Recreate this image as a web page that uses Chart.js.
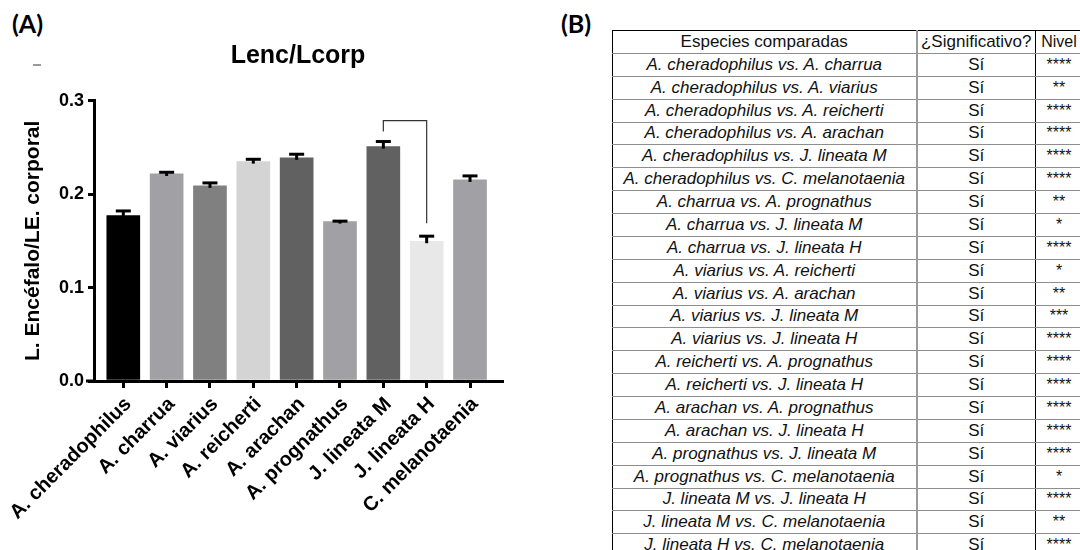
<!DOCTYPE html>
<html>
<head>
<meta charset="utf-8">
<script src="https://cdn.jsdelivr.net/npm/chart.js@4.4.1/dist/chart.umd.min.js"></script>
<style>
  html, body { margin: 0; padding: 0; background: #fff; }
  body { width: 1080px; height: 550px; overflow: hidden; position: relative;
         font-family: "Liberation Sans", Arial, sans-serif; }
  #chartBox { position: absolute; left: 0; top: 0; width: 540px; height: 550px; }
  .panel { position: absolute; font-family: Lato, "Open Sans", sans-serif; font-weight: 700;
           font-size: 25px; line-height: 1; color: #000; }
  .stray { position: absolute; left: 33px; top: 64px; width: 8px; height: 2px; background: #9a9a9a; }
  #tbl { position: absolute; left: 612px; top: 30px; border-collapse: collapse;
         table-layout: fixed; width: 470px; color: #111; font-size: 17px; }
  #tbl td { height: 21.88px; padding: 0; text-align: center; vertical-align: middle;
            border-top: 1px solid #8e8e8e; border-bottom: 1px solid #8e8e8e;
            white-space: nowrap; overflow: hidden; line-height: 20px; }
  #tbl tr:first-child td { border-top: 1px solid #000; }
  #tbl td.c1 { border-left: 1px solid #000; border-right: 2px solid #9a9a9a; font-style: italic; }
  #tbl td.c2 { border-right: 1.5px solid #000; }
  #tbl td.c3 { border-right: 1px solid #000; font-size: 16px; }
  #tbl tr.head td { font-style: normal; }
</style>
</head>
<body>
<div class="panel" style="left:12px; top:11px;">(A)</div>
<div class="panel" style="left:561px; top:11px;">(B)</div>
<div class="stray"></div>
<div id="chartBox"><canvas id="c" width="540" height="550"></canvas></div>
<table id="tbl">
  <colgroup><col style="width:304px"><col style="width:119px"><col style="width:47px"></colgroup>
  <tbody id="tbody"></tbody>
</table>

<script>
// Brain length / body length ratio per species (mean and SEM)
const species = ['A. cheradophilus', 'A. charrua', 'A. viarius', 'A. reicherti', 'A. arachan',
                 'A. prognathus', 'J. lineata M', 'J. lineata H', 'C. melanotaenia'];
const means = [0.177, 0.2216, 0.2088, 0.2348, 0.2388, 0.1706, 0.2509, 0.1496, 0.2152];
const sems  = [0.0050, 0.0018, 0.0032, 0.0025, 0.0039, 0.0005, 0.0054, 0.0054, 0.0043];
const barColors = ['#000000', '#a1a1a5', '#808080', '#d4d4d4', '#616161',
                   '#a1a1a5', '#616161', '#e8e8e8', '#a1a1a5'];
const yTicks = [0, 0.1, 0.2, 0.3];
// bracket drawn between these two species
const bracketPair = [6, 7];

// Pairwise comparisons table
const tableHeader = ['Especies comparadas', '¿Significativo?', 'Nivel'];
const pairs = [
  'A. cheradophilus vs. A. charrua',
  'A. cheradophilus vs. A. viarius',
  'A. cheradophilus vs. A. reicherti',
  'A. cheradophilus vs. A. arachan',
  'A. cheradophilus vs. J. lineata M',
  'A. cheradophilus vs. C. melanotaenia',
  'A. charrua vs. A. prognathus',
  'A. charrua vs. J. lineata M',
  'A. charrua vs. J. lineata H',
  'A. viarius vs. A. reicherti',
  'A. viarius vs. A. arachan',
  'A. viarius vs. J. lineata M',
  'A. viarius vs. J. lineata H',
  'A. reicherti vs. A. prognathus',
  'A. reicherti vs. J. lineata H',
  'A. arachan vs. A. prognathus',
  'A. arachan vs. J. lineata H',
  'A. prognathus vs. J. lineata M',
  'A. prognathus vs. C. melanotaenia',
  'J. lineata M vs. J. lineata H',
  'J. lineata M vs. C. melanotaenia',
  'J. lineata H vs. C. melanotaenia'
];
const significant = pairs.map(() => 'Sí');
const levels = ['****', '**', '****', '****', '****', '****', '**', '*', '****', '*', '**',
                '***', '****', '****', '****', '****', '****', '****', '*', '****', '**', '****'];

// build the table
(function () {
  const tb = document.getElementById('tbody');
  const mk = (cells, cls) => {
    const tr = document.createElement('tr');
    if (cls) tr.className = cls;
    cells.forEach((t, i) => {
      const td = document.createElement('td');
      td.className = 'c' + (i + 1);
      td.textContent = t;
      tr.appendChild(td);
    });
    tb.appendChild(tr);
  };
  mk(tableHeader, 'head');
  pairs.forEach((p, i) => mk([p, significant[i], levels[i]]));
})();

const FONT = '"Liberation Sans", Arial, sans-serif';

// error bars, bracket, category labels, main title and x-axis extension
const decor = {
  id: 'decor',
  afterDatasetsDraw(chart) {
    const { ctx, scales: { x, y } } = chart;
    ctx.save();
    ctx.strokeStyle = '#000';
    ctx.lineWidth = 3;
    ctx.lineCap = 'butt';
    const tops = [];
    means.forEach((m, i) => {
      const px = x.getPixelForValue(i);
      const yb = y.getPixelForValue(m);
      const yt = y.getPixelForValue(m + sems[i]);
      tops.push(yt);
      ctx.beginPath();
      ctx.moveTo(px, yb + 2);
      ctx.lineTo(px, yt);
      ctx.stroke();
      ctx.beginPath();
      ctx.moveTo(px - 7.5, yt);
      ctx.lineTo(px + 7.5, yt);
      ctx.stroke();
    });
    // significance bracket
    const [a, b] = bracketPair;
    const xa = x.getPixelForValue(a), xb = x.getPixelForValue(b);
    const top = Math.min(tops[a], tops[b]) - 21;
    ctx.strokeStyle = '#333';
    ctx.lineWidth = 1.2;
    ctx.beginPath();
    ctx.moveTo(xa, tops[a] - 10);
    ctx.lineTo(xa, top);
    ctx.lineTo(xb, top);
    ctx.lineTo(xb, tops[b] - 13);
    ctx.stroke();
    ctx.restore();
  },
  afterDraw(chart) {
    const { ctx, chartArea, scales: { x } } = chart;
    ctx.save();
    // x axis line continues a little to the left of the y axis
    ctx.strokeStyle = '#000';
    ctx.lineWidth = 3;
    ctx.beginPath();
    ctx.moveTo(chartArea.left - 8, chartArea.bottom);
    ctx.lineTo(chartArea.left, chartArea.bottom);
    ctx.stroke();
    // rotated category labels, each ending just under its tick
    ctx.fillStyle = '#000';
    ctx.font = 'bold 20px ' + FONT;
    ctx.textAlign = 'right';
    ctx.textBaseline = 'middle';
    species.forEach((s, i) => {
      ctx.save();
      ctx.translate(x.getPixelForValue(i) + 5, chartArea.bottom + 20);
      ctx.rotate(-Math.PI / 4);
      ctx.fillText(s, 0, 0);
      ctx.restore();
    });
    // title
    ctx.font = 'bold 25px ' + FONT;
    ctx.textAlign = 'center';
    ctx.fillText('Lenc/Lcorp', (chartArea.left + chartArea.right) / 2, 56);
    ctx.restore();
  }
};

new Chart(document.getElementById('c'), {
  type: 'bar',
  data: {
    datasets: [{
      data: means.map((m, i) => ({ x: i, y: m })),
      backgroundColor: barColors,
      borderWidth: 0,
      barThickness: 33
    }]
  },
  options: {
    responsive: false,
    animation: false,
    events: [],
    layout: { padding: { left: 0, right: 38, top: 100.7, bottom: 0 } },
    plugins: { legend: { display: false }, tooltip: { enabled: false }, title: { display: false } },
    scales: {
      x: {
        type: 'linear',
        offset: false,
        min: -0.676,
        max: 8.738,
        afterBuildTicks: s => { s.ticks = species.map((_, i) => ({ value: i })); },
        afterFit: s => { s.height = 169; },
        ticks: { display: false },
        grid: { display: true, offset: false, drawOnChartArea: false, drawTicks: true, tickLength: 7, lineWidth: 3, color: '#000' },
        border: { display: true, width: 3, color: '#000' }
      },
      y: {
        min: 0,
        max: 0.3,
        afterBuildTicks: s => { s.ticks = yTicks.map(v => ({ value: v })); },
        afterFit: s => { s.width = 94; },
        ticks: {
          padding: 4,
          color: '#000',
          font: { family: FONT, size: 18, weight: 'bold' },
          callback: v => v.toFixed(1)
        },
        grid: { display: true, drawOnChartArea: false, drawTicks: true, tickLength: 6, lineWidth: 3, color: '#000' },
        border: { display: true, width: 3, color: '#000' },
        title: {
          display: true,
          text: 'L. Encéfalo/LE. corporal',
          color: '#000',
          font: { family: FONT, size: 21, weight: 'bold' },
          padding: { top: 21, bottom: 0 }
        }
      }
    }
  },
  plugins: [decor]
});
</script>
</body>
</html>
